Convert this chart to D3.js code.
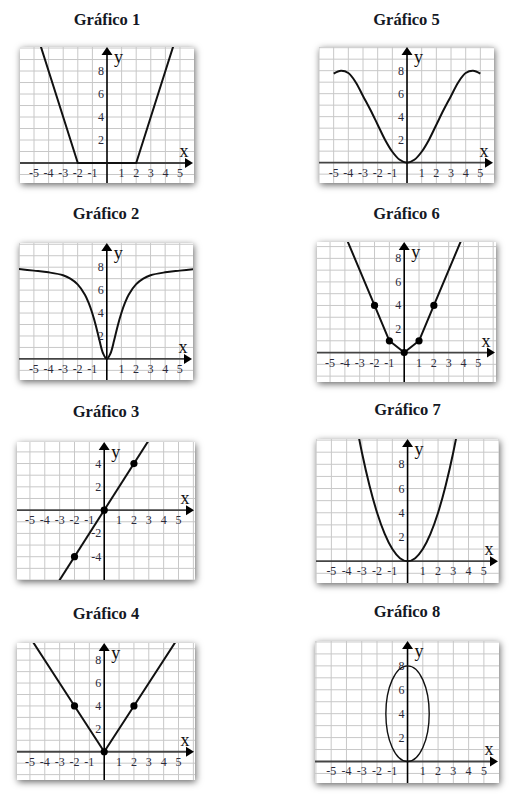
<!DOCTYPE html>
<html>
<head>
<meta charset="utf-8">
<script src="https://cdn.jsdelivr.net/npm/d3@7"></script>
<style>
  html, body { margin: 0; padding: 0; background: #fff; }
  svg { display: block; }
</style>
</head>
<body>
<svg id="chart" width="523" height="804"></svg>
<script>
// ---------- DATA ----------
const titles = ["Gráfico 1", "Gráfico 2", "Gráfico 3", "Gráfico 4",
                "Gráfico 5", "Gráfico 6", "Gráfico 7", "Gráfico 8"];
const xTickLabels = [-5, -4, -3, -2, -1, 1, 2, 3, 4, 5];
const yTickLabelsPos = [2, 4, 6, 8];
const yTickLabelsSym = [-4, -2, 2, 4];

// Gráfico 1
const g1x = [-4.6, -2, 2, 4.6];
const g1y = [10.4, 0, 0, 10.4];
// Gráfico 2
const g2x = [-6.1, -5, -4, -3, -2.5, -2, -1.5, -1.25, -1, -0.75, -0.5, -0.25, 0, 0.25, 0.5, 0.75, 1, 1.25, 1.5, 2, 2.5, 3, 4, 5, 6.1];
const g2y = [7.85, 7.7, 7.55, 7.3, 7.0, 6.5, 5.6, 4.9, 4.0, 2.9, 1.6, 0.47, 0, 0.47, 1.6, 2.9, 4.0, 4.9, 5.6, 6.5, 7.0, 7.3, 7.55, 7.7, 7.85];
// Gráfico 3
const g3x = [-3.6, 3.6];
const g3y = [-7.2, 7.2];
const g3dotsX = [-2, 0, 2];
const g3dotsY = [-4, 0, 4];
// Gráfico 4
const g4x = [-5, -2, 0, 2, 5];
const g4y = [10, 4, 0, 4, 10];
const g4dotsX = [-2, 0, 2];
const g4dotsY = [4, 0, 4];
// Gráfico 5
const g5x = [-5, -4.5, -4, -3.5, -3, -2.5, -2, -1.5, -1, -0.5, 0, 0.5, 1, 1.5, 2, 2.5, 3, 3.5, 4, 4.5, 5];
const g5y = [7.75, 8.0, 7.8, 7.0, 5.8, 4.6, 3.3, 2.0, 0.95, 0.25, 0, 0.25, 0.95, 2.0, 3.3, 4.6, 5.8, 7.0, 7.8, 8.0, 7.75];
// Gráfico 6
const g6x = [-4.2, -2, -1, 0, 1, 2, 4.2];
const g6y = [10.6, 4, 1, 0, 1, 4, 10.6];
const g6dotsX = [-2, -1, 0, 1, 2];
const g6dotsY = [4, 1, 0, 1, 4];
// Gráfico 7
const g7x = [-3.4, -3, -2.5, -2, -1.5, -1, -0.5, 0, 0.5, 1, 1.5, 2, 2.5, 3, 3.4];
const g7y = [11.56, 9, 6.25, 4, 2.25, 1, 0.25, 0, 0.25, 1, 2.25, 4, 6.25, 9, 11.56];
// Gráfico 8 (ellipse)
const g8center = [0, 4];
const g8radii = [1.42, 4];

// ---------- LAYOUT ----------
const panels = [
  { t: 0, box: [20, 47, 174, 136],  xd: [-5.96, 5.96], yd: [-1.74, 10.09], yt: yTickLabelsPos },
  { t: 1, box: [19, 243, 174, 137], xd: [-6.02, 5.91], yd: [-1.84, 10.11], yt: yTickLabelsPos },
  { t: 2, box: [17, 442, 178, 138], xd: [-5.87, 6.11], yd: [-6.0, 5.85],   yt: yTickLabelsSym },
  { t: 3, box: [17, 643, 178, 137], xd: [-5.87, 6.11], yd: [-2.47, 9.5],   yt: yTickLabelsPos },
  { t: 4, box: [319, 47, 175, 136], xd: [-6.0, 5.93],  yd: [-1.77, 10.06], yt: yTickLabelsPos },
  { t: 5, box: [317, 242, 179, 140],xd: [-5.88, 6.19], yd: [-2.5, 9.39],   yt: yTickLabelsPos },
  { t: 6, box: [316, 439, 183, 144],xd: [-6.01, 6.0],  yd: [-1.8, 10.09],  yt: yTickLabelsPos },
  { t: 7, box: [315, 641, 184, 142],xd: [-6.06, 5.99], yd: [-1.8, 10.08],  yt: yTickLabelsPos }
];
const titleY = [25, 219, 417, 619, 25, 219, 415, 617];

const svg = d3.select("#chart");
const defs = svg.append("defs");
const f = defs.append("filter").attr("id", "shadow")
  .attr("x", "-20%").attr("y", "-20%").attr("width", "140%").attr("height", "140%");
f.append("feDropShadow").attr("dx", 1).attr("dy", 2).attr("stdDeviation", 3.5)
  .attr("flood-color", "#000").attr("flood-opacity", 0.6);

const serif = "'Liberation Serif', 'Times New Roman', serif";

function drawPanel(p, i) {
  const [L, T, W, H] = p.box;
  const x = d3.scaleLinear().domain(p.xd).range([L, L + W]);
  const y = d3.scaleLinear().domain(p.yd).range([T + H, T]);
  const g = svg.append("g");

  g.append("text").attr("x", L + W / 2).attr("y", titleY[i])
    .attr("text-anchor", "middle").attr("font-family", serif)
    .attr("font-weight", "bold").attr("font-size", 16.5).attr("fill", "#141824")
    .text(titles[p.t]);

  g.append("rect").attr("x", L).attr("y", T).attr("width", W).attr("height", H)
    .attr("fill", "#fff").attr("filter", "url(#shadow)");

  const clipId = "clip" + i;
  defs.append("clipPath").attr("id", clipId).append("rect")
    .attr("x", L).attr("y", T).attr("width", W).attr("height", H);

  const inner = g.append("g").attr("clip-path", `url(#${clipId})`);

  const xs = d3.range(Math.ceil(p.xd[0]), Math.floor(p.xd[1]) + 1);
  const ys = d3.range(Math.ceil(p.yd[0]), Math.floor(p.yd[1]) + 1);
  inner.selectAll(null).data(xs.filter(v => v !== 0)).join("line")
    .attr("x1", d => x(d)).attr("x2", d => x(d)).attr("y1", T).attr("y2", T + H)
    .attr("stroke", "#c8c8c8").attr("stroke-width", 1);
  inner.selectAll(null).data(ys.filter(v => v !== 0)).join("line")
    .attr("y1", d => y(d)).attr("y2", d => y(d)).attr("x1", L).attr("x2", L + W)
    .attr("stroke", "#c8c8c8").attr("stroke-width", 1);

  const ax = x(0), ay = y(0);
  inner.append("line").attr("x1", L).attr("x2", L + W - 6).attr("y1", ay).attr("y2", ay)
    .attr("stroke", "#444").attr("stroke-width", 1.8);
  inner.append("line").attr("x1", ax).attr("x2", ax).attr("y1", T + 6).attr("y2", T + H)
    .attr("stroke", "#000").attr("stroke-width", 1.6);
  inner.append("path")
    .attr("d", `M${L + W - 1},${ay} L${L + W - 9},${ay - 5} L${L + W - 9},${ay + 5} Z`)
    .attr("fill", "#000");
  inner.append("path")
    .attr("d", `M${ax},${T} L${ax - 5.5},${T + 8} L${ax + 5.5},${T + 8} Z`)
    .attr("fill", "#000");

  g.selectAll(null).data(xTickLabels).join("text")
    .attr("x", d => x(d)).attr("y", ay + 14)
    .attr("text-anchor", "middle").attr("font-family", serif).attr("font-size", 12)
    .attr("fill", "#2a2a3a").text(d => d);
  g.selectAll(null).data(p.yt).join("text")
    .attr("x", ax - 3).attr("y", d => y(d) + 4)
    .attr("text-anchor", "end").attr("font-family", serif).attr("font-size", 12)
    .attr("fill", "#2a2a3a").text(d => d);

  g.append("text").attr("x", ax + 7).attr("y", T + 16).attr("font-family", serif)
    .attr("font-size", 18).attr("fill", "#111").text("y");
  g.append("text").attr("x", L + W - 10).attr("y", ay - 6).attr("font-family", serif)
    .attr("font-size", 18).attr("fill", "#111").attr("text-anchor", "middle").text("x");

  return { x, y, inner };
}

const ctx = panels.map((p, i) => drawPanel(p, i));

function curve(c, xsArr, ysArr, curveType, width) {
  const pts = xsArr.map((v, k) => [v, ysArr[k]]);
  const line = d3.line().x(d => c.x(d[0])).y(d => c.y(d[1])).curve(curveType);
  c.inner.append("path").attr("d", line(pts)).attr("fill", "none")
    .attr("stroke", "#111").attr("stroke-width", width)
    .attr("stroke-linejoin", "round");
}
function dots(c, xsArr, ysArr) {
  c.inner.selectAll(null).data(xsArr.map((v, k) => [v, ysArr[k]])).join("circle")
    .attr("cx", d => c.x(d[0])).attr("cy", d => c.y(d[1])).attr("r", 3.6).attr("fill", "#000");
}

curve(ctx[0], g1x, g1y, d3.curveLinear, 2);
curve(ctx[1], g2x, g2y, d3.curveCatmullRom, 2);
curve(ctx[2], g3x, g3y, d3.curveLinear, 2); dots(ctx[2], g3dotsX, g3dotsY);
curve(ctx[3], g4x, g4y, d3.curveLinear, 2); dots(ctx[3], g4dotsX, g4dotsY);
curve(ctx[4], g5x, g5y, d3.curveCatmullRom, 2);
curve(ctx[5], g6x, g6y, d3.curveLinear, 2); dots(ctx[5], g6dotsX, g6dotsY);
curve(ctx[6], g7x, g7y, d3.curveNatural, 2);
const c8 = ctx[7];
c8.inner.append("ellipse")
  .attr("cx", c8.x(g8center[0])).attr("cy", c8.y(g8center[1]))
  .attr("rx", c8.x(g8radii[0]) - c8.x(0)).attr("ry", c8.y(0) - c8.y(g8radii[1]))
  .attr("fill", "none").attr("stroke", "#111").attr("stroke-width", 1.4);
</script>
</body>
</html>
